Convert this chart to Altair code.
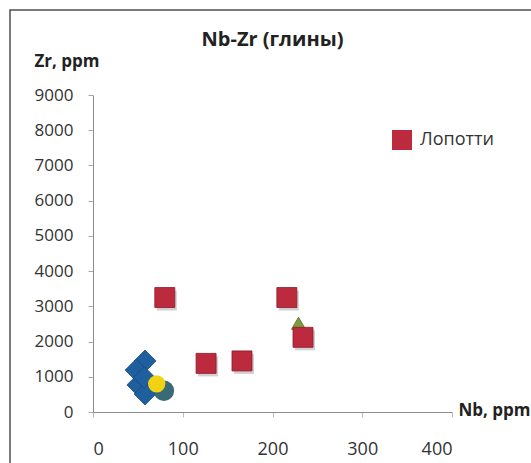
import altair as alt
import pandas as pd

# Nb (x) and Zr (y) contents, ppm, for each group of clay samples
lopotti_nb = [80, 126, 166, 216, 234]
lopotti_zr = [3250, 1380, 1450, 3250, 2120]

blue_nb = [58, 48, 50, 58, 57]
blue_zr = [1450, 1190, 770, 510, 980]

teal_nb = [79]
teal_zr = [600]

green_nb = [229]
green_zr = [2520]

yellow_nb = [71]
yellow_zr = [800]

x_ticks = [0, 100, 200, 300, 400]
y_ticks = [0, 1000, 2000, 3000, 4000, 5000, 6000, 7000, 8000, 9000]

chart_title = "Nb-Zr (глины)"

FONT = "Open Sans"
W, H = 359, 317

lop = pd.DataFrame({"nb": lopotti_nb, "zr": lopotti_zr, "group": "Лопотти"})
blue = pd.DataFrame({"nb": blue_nb, "zr": blue_zr})
teal = pd.DataFrame({"nb": teal_nb, "zr": teal_zr})
green = pd.DataFrame({"nb": green_nb, "zr": green_zr})
yellow = pd.DataFrame({"nb": yellow_nb, "zr": yellow_zr})

x_enc = alt.X(
    "nb:Q",
    scale=alt.Scale(domain=[0, 400], nice=False),
    axis=alt.Axis(
        values=x_ticks,
        format="d",
        title="Nb, ppm",
        titleFont=FONT,
        titleFontSize=17,
        titleFontWeight="bold",
        titleColor="#222222",
        titleAngle=0,
        titleAlign="left",
        titleBaseline="middle",
        titleX=365,
        titleY=-2,
        labelFont=FONT,
        labelFontSize=18,
        labelColor="#333333",
        labelPadding=23,
        grid=False,
        domainColor="#8c8c8c",
        tickColor="#bbbbbb",
        tickSize=5,
    ),
)
y_enc = alt.Y(
    "zr:Q",
    scale=alt.Scale(domain=[0, 9000], nice=False),
    axis=alt.Axis(
        values=y_ticks,
        format="d",
        title="Zr, ppm",
        titleFont=FONT,
        titleFontSize=17,
        titleFontWeight="bold",
        titleColor="#222222",
        titleAngle=0,
        titleAlign="left",
        titleBaseline="middle",
        titleX=-59,
        titleY=-34,
        labelFont=FONT,
        labelFontSize=17,
        labelColor="#333333",
        labelPadding=15,
        grid=False,
        domainColor="#8c8c8c",
        tickColor="#aaaaaa",
        tickSize=5,
    ),
)

# outer chart frame
frame = alt.Chart(pd.DataFrame({"k": [0]})).mark_rect(
    fill=None, stroke="#505050", strokeWidth=1.5
).encode(
    x=alt.value(-83), x2=alt.value(W + 120),
    y=alt.value(-85), y2=alt.value(H + 120),
)

# chart heading
heading = alt.Chart(pd.DataFrame({"t": [chart_title]})).mark_text(
    font=FONT, fontSize=20, fontWeight="bold", color="#222222",
    align="center", baseline="alphabetic",
).encode(x=alt.value(W / 2), y=alt.value(-49), text="t:N")

shadow = alt.Chart(lop).mark_point(
    shape="square", size=400, filled=True, color="#000000", opacity=0.18,
    xOffset=2, yOffset=3,
).encode(x=x_enc, y=y_enc)

blue_pts = alt.Chart(blue).mark_point(
    shape="diamond", size=480, filled=True, color="#1F5F9E", opacity=1,
    stroke="#174a7c", strokeWidth=0.8,
).encode(x=x_enc, y=y_enc)

teal_pts = alt.Chart(teal).mark_point(
    shape="circle", size=420, filled=True, color="#2E6270", opacity=0.95,
).encode(x=x_enc, y=y_enc)

yellow_pts = alt.Chart(yellow).mark_point(
    shape="circle", size=300, filled=True, color="#F3D214", opacity=1,
).encode(x=x_enc, y=y_enc)

green_pts = alt.Chart(green).mark_point(
    shape="triangle-up", size=200, filled=True, color="#7E9A3C", opacity=1,
    stroke="#5d7428", strokeWidth=0.8,
).encode(x=x_enc, y=y_enc)

red_pts = alt.Chart(lop).mark_point(
    shape="square", size=400, filled=True, opacity=1,
    stroke="#8e1a28", strokeWidth=0.8,
).encode(
    x=x_enc,
    y=y_enc,
    color=alt.Color(
        "group:N",
        scale=alt.Scale(domain=["Лопотти"], range=["#BC2A3D"]),
        legend=alt.Legend(
            title=None,
            orient="none",
            legendX=299,
            legendY=35,
            symbolType="square",
            symbolSize=400,
            symbolStrokeWidth=0,
            symbolOpacity=1,
            labelFont=FONT,
            labelFontSize=18,
            labelColor="#333333",
            labelOffset=8,
            padding=0,
        ),
    ),
)

chart = alt.layer(
    frame, heading, shadow, blue_pts, teal_pts, yellow_pts, green_pts, red_pts
).properties(
    width=W,
    height=H,
    autosize=alt.AutoSizeParams(type="none"),
    padding={"left": 93, "top": 95, "right": 79, "bottom": 51},
).configure(
    background="white",
    view=alt.ViewConfig(stroke=None),
)

chart.save("out.html", embed_options={"renderer": "svg", "actions": False})
